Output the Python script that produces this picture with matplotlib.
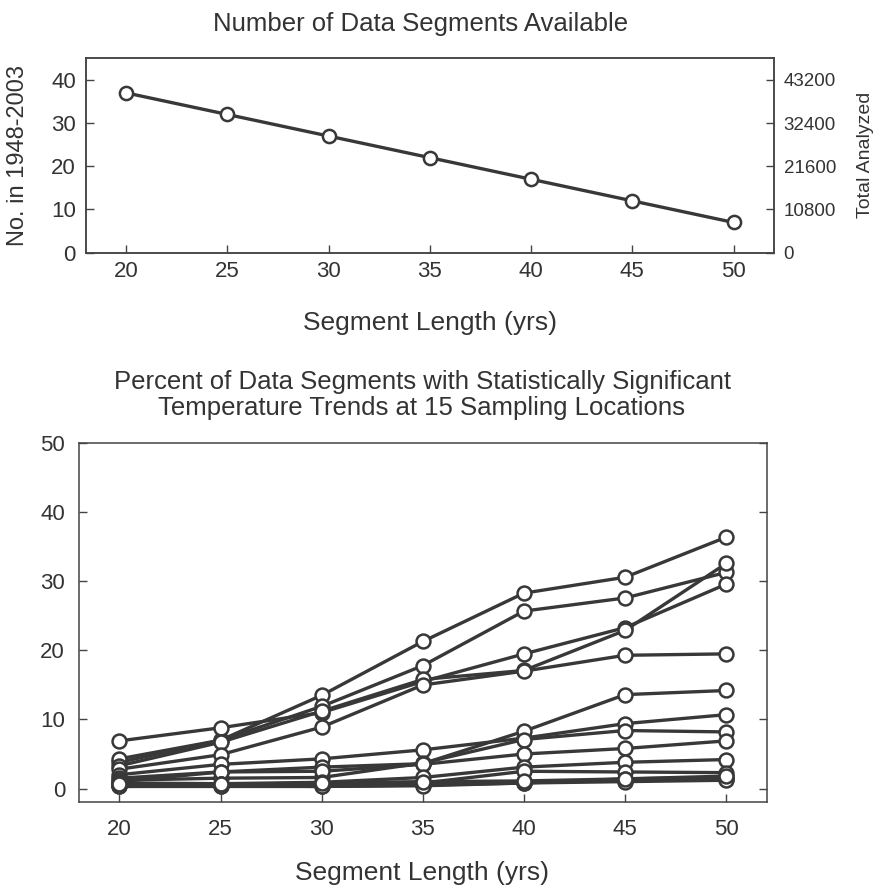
import numpy as np
import matplotlib
matplotlib.use("Agg")
import matplotlib.pyplot as plt

plt.rcParams['font.family'] = ['Liberation Sans', 'DejaVu Sans']

# segment lengths (yrs)
seg_len = [20, 25, 30, 35, 40, 45, 50]

# upper panel: number of segments in 1948-2003
n_segments = [37, 32, 27, 22, 17, 12, 7]
right_ticks = [0, 10800, 21600, 32400, 43200]

# lower panel: percent significant, one list per sampling location
pct_sig = [
    [3.8, 7.0, 13.5, 21.3, 28.3, 30.6, 36.4],
    [4.3, 7.0, 11.9, 17.8, 25.7, 27.6, 31.3],
    [6.9, 8.8, 11.0, 15.5, 19.5, 23.3, 29.6],
    [3.3, 6.7, 11.2, 15.8, 17.1, 22.9, 32.6],
    [2.8, 4.9, 8.9, 15.0, 17.0, 19.3, 19.5],
    [2.0, 3.5, 4.3, 5.6, 7.3, 9.4, 10.7],
    [1.5, 2.4, 3.1, 3.6, 8.3, 13.6, 14.2],
    [1.2, 1.5, 1.6, 3.7, 7.1, 8.4, 8.2],
    [1.0, 2.4, 2.5, 3.5, 5.0, 5.8, 6.9],
    [0.8, 0.7, 0.9, 1.6, 3.1, 3.8, 4.2],
    [0.5, 0.7, 0.7, 0.8, 2.5, 2.4, 2.3],
    [0.3, 0.3, 0.3, 0.5, 0.8, 1.4, 1.6],
    [0.5, 0.5, 0.5, 0.7, 1.0, 1.1, 1.4],
    [0.3, 0.4, 0.3, 0.4, 0.8, 1.0, 1.2],
    [0.7, 0.6, 0.8, 1.0, 1.1, 1.4, 1.8],
]

ink = '#383838'
txt = '#333333'
W, H = 874, 885

fig = plt.figure(figsize=(8.74, 8.85), dpi=100)

def style(ax, size=16):
    for s in ax.spines.values():
        s.set_color('#444444')
        s.set_linewidth(1.1)
    ax.tick_params(direction='in', length=6, width=1.0, color='#444444',
                   labelcolor=txt, labelsize=size)

# upper panel
ax1 = fig.add_axes([0.098, 0.7145, 0.7876, 0.2196])
ax1.plot(seg_len, n_segments, color=ink, lw=2.4, marker='o', ms=9.5,
         mfc='white', mec=ink, mew=1.8)
ax1.set_xlim(18, 52)
ax1.set_ylim(0, 45)
ax1.set_xticks(seg_len)
ax1.set_yticks([0, 10, 20, 30, 40])
style(ax1)
ax1.tick_params(axis='y', pad=7)
ax1.tick_params(axis='x', pad=6)

ax1r = ax1.twinx()
ax1r.set_ylim(0, 45 * 1080)
ax1r.set_yticks(right_ticks)
style(ax1r, 13.5)
ax1r.tick_params(pad=7)

fig.text(421 / W, 1 - 24 / H, 'Number of Data Segments Available',
         fontsize=18.5, color=txt, ha='center', va='center')
fig.text(430 / W, 1 - 323 / H, 'Segment Length (yrs)',
         fontsize=19, color=txt, ha='center', va='center')
fig.text(18 / W, 1 - 156 / H, 'No. in 1948-2003', rotation=90,
         fontsize=17, color=txt, ha='center', va='center')
fig.text(866 / W, 1 - 155 / H, 'Total Analyzed', rotation=90,
         fontsize=14, color=txt, ha='center', va='center')

# lower panel
ax2 = fig.add_axes([0.0904, 0.0934, 0.7868, 0.4057])
for row in pct_sig:
    ax2.plot(seg_len, row, color=ink, lw=2.4, marker='o', ms=10,
             mfc='white', mec=ink, mew=1.8)
ax2.set_xlim(18, 52)
ax2.set_ylim(-2, 50)
ax2.set_xticks(seg_len)
ax2.set_yticks([0, 10, 20, 30, 40, 50])
style(ax2)
ax2.tick_params(right=True)
ax2.tick_params(axis='y', pad=10)
ax2.tick_params(axis='x', pad=12)

fig.text(422 / W, 1 - 395 / H,
         'Percent of Data Segments with Statistically Significant\n'
         'Temperature Trends at 15 Sampling Locations',
         fontsize=18.5, color=txt, ha='center', va='center', linespacing=1.15)
fig.text(422 / W, 1 - 873 / H, 'Segment Length (yrs)',
         fontsize=19, color=txt, ha='center', va='center')

fig.savefig('out.png', dpi=100)
